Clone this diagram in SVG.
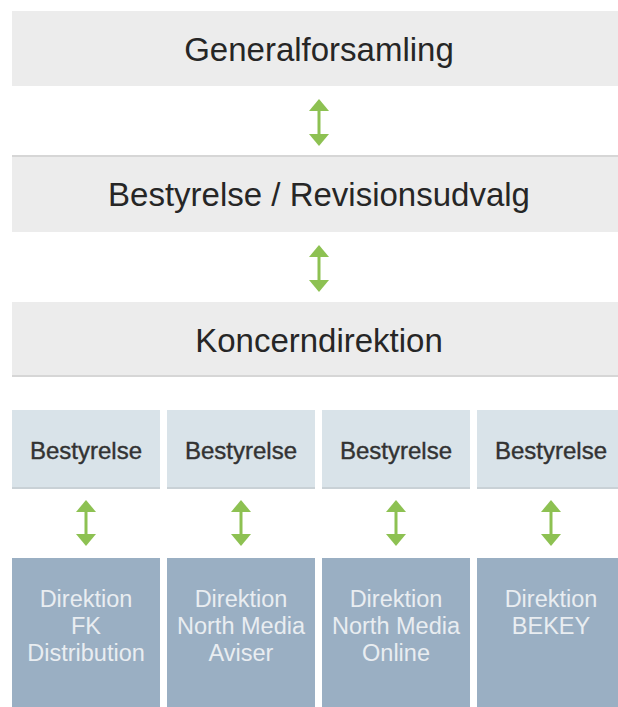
<svg xmlns="http://www.w3.org/2000/svg" width="618" height="707" viewBox="0 0 618 707">
<style>
.band{fill:#ececec}
.bline{fill:#d6d6d6}
.bt{font-family:"Liberation Sans",Arial,sans-serif;font-size:33px;fill:#262626;text-anchor:middle}
.sb{fill:#d9e3e9}
.sbl{fill:#c9d1d6}
.st{font-family:"Liberation Sans",Arial,sans-serif;font-size:24px;fill:#333333;stroke:#333333;stroke-width:0.4;text-anchor:middle}
.db{fill:#9aafc3}
.dt{font-family:"Liberation Sans",Arial,sans-serif;font-size:23.5px;fill:#e9edf1;text-anchor:middle}
.conn{stroke:#8dc152;stroke-width:3;fill:none}
</style>
<defs>
<marker id="ah" markerUnits="userSpaceOnUse" markerWidth="13" markerHeight="22" viewBox="0 0 13 22" refX="1" refY="11" orient="auto-start-reverse">
<path d="M0,1 L12,11 L0,21 Z" fill="#8dc152"/>
</marker>
</defs>
<rect width="618" height="707" fill="#ffffff"/>
<g id="generalforsamling">
<rect class="band" x="12" y="11" width="606" height="75"/>
<text class="bt" x="319" y="61">Generalforsamling</text>
</g>
<g id="bestyrelse-revisionsudvalg">
<rect class="band" x="12" y="155" width="606" height="77"/>
<rect class="bline" x="12" y="155" width="606" height="2"/>
<text class="bt" x="319" y="206">Bestyrelse / Revisionsudvalg</text>
</g>
<g id="koncerndirektion">
<rect class="band" x="12" y="302" width="606" height="75"/>
<rect class="bline" x="12" y="375" width="606" height="2"/>
<text class="bt" x="319" y="352">Koncerndirektion</text>
</g>
<g id="bestyrelse-1">
<rect class="sb" x="12" y="410" width="148" height="79"/>
<rect class="sbl" x="12" y="487" width="148" height="2"/>
<text class="st" x="86" y="459">Bestyrelse</text>
</g>
<g id="bestyrelse-2">
<rect class="sb" x="167" y="410" width="148" height="79"/>
<rect class="sbl" x="167" y="487" width="148" height="2"/>
<text class="st" x="241" y="459">Bestyrelse</text>
</g>
<g id="bestyrelse-3">
<rect class="sb" x="322" y="410" width="148" height="79"/>
<rect class="sbl" x="322" y="487" width="148" height="2"/>
<text class="st" x="396" y="459">Bestyrelse</text>
</g>
<g id="bestyrelse-4">
<rect class="sb" x="477" y="410" width="148" height="79"/>
<rect class="sbl" x="477" y="487" width="148" height="2"/>
<text class="st" x="551" y="459">Bestyrelse</text>
</g>
<g id="direktion-fk">
<rect class="db" x="12" y="558" width="148" height="149"/>
<text class="dt" x="86" y="607">Direktion</text>
<text class="dt" x="86" y="634">FK</text>
<text class="dt" x="86" y="661">Distribution</text>
</g>
<g id="direktion-aviser">
<rect class="db" x="167" y="558" width="148" height="149"/>
<text class="dt" x="241" y="607">Direktion</text>
<text class="dt" x="241" y="634">North Media</text>
<text class="dt" x="241" y="661">Aviser</text>
</g>
<g id="direktion-online">
<rect class="db" x="322" y="558" width="148" height="149"/>
<text class="dt" x="396" y="607">Direktion</text>
<text class="dt" x="396" y="634">North Media</text>
<text class="dt" x="396" y="661">Online</text>
</g>
<g id="direktion-bekey">
<rect class="db" x="477" y="558" width="148" height="149"/>
<text class="dt" x="551" y="607">Direktion</text>
<text class="dt" x="551" y="634">BEKEY</text>
</g>
<g id="connectors">
<line class="conn" x1="319" y1="110" x2="319" y2="135" marker-start="url(#ah)" marker-end="url(#ah)"/>
<line class="conn" x1="319" y1="256" x2="319" y2="281" marker-start="url(#ah)" marker-end="url(#ah)"/>
<line class="conn" x1="86" y1="511" x2="86" y2="535" marker-start="url(#ah)" marker-end="url(#ah)"/>
<line class="conn" x1="241" y1="511" x2="241" y2="535" marker-start="url(#ah)" marker-end="url(#ah)"/>
<line class="conn" x1="396" y1="511" x2="396" y2="535" marker-start="url(#ah)" marker-end="url(#ah)"/>
<line class="conn" x1="551" y1="511" x2="551" y2="535" marker-start="url(#ah)" marker-end="url(#ah)"/>
</g>
</svg>
